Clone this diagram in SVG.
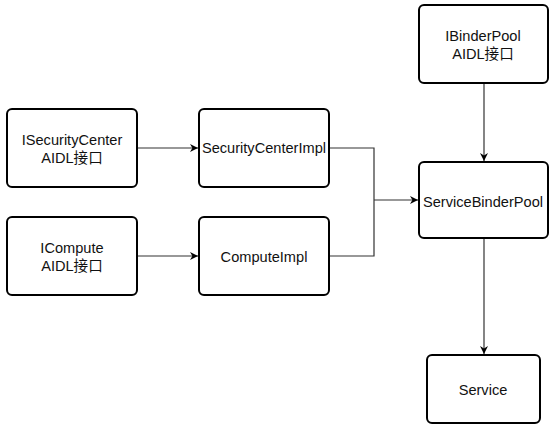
<svg xmlns="http://www.w3.org/2000/svg" width="554" height="429" viewBox="0 0 554 429">
<style>
.box{fill:#fff;stroke:#000;stroke-width:2}
.t{font-family:"Liberation Sans","Noto Sans CJK SC",sans-serif;font-size:14.6px;fill:#111;text-anchor:middle}
.c{fill:none;stroke:#333;stroke-width:1.2}
</style>
<defs>
<marker id="a" viewBox="0 0 10 10" refX="10" refY="5" markerWidth="8" markerHeight="8" markerUnits="userSpaceOnUse" orient="auto">
<path d="M0,0 L10,5 L0,10 L3,5 Z" fill="#000"/>
</marker>
</defs>
<rect width="554" height="429" fill="#fff"/>
<g id="connectors">
<path class="c" d="M137,148 H198" marker-end="url(#a)"/>
<path class="c" d="M137,256 H198" marker-end="url(#a)"/>
<path class="c" d="M329,148 H374 V256 H329"/>
<path class="c" d="M374,200 H418" marker-end="url(#a)"/>
<path class="c" d="M484,83 V161" marker-end="url(#a)"/>
<path class="c" d="M484,238 V354" marker-end="url(#a)"/>
</g>
<g id="isecuritycenter">
<rect class="box" x="7" y="109" width="130" height="78" rx="5"/>
<text class="t" x="72" y="145">ISecurityCenter</text>
<text class="t" x="72" y="163">AIDL接口</text>
</g>
<g id="icompute">
<rect class="box" x="7" y="217" width="130" height="78" rx="5"/>
<text class="t" x="72" y="253">ICompute</text>
<text class="t" x="72" y="271">AIDL接口</text>
</g>
<g id="securitycenterimpl">
<rect class="box" x="199" y="109" width="130" height="78" rx="5"/>
<text class="t" x="264" y="153">SecurityCenterImpl</text>
</g>
<g id="computeimpl">
<rect class="box" x="199" y="217" width="130" height="78" rx="5"/>
<text class="t" x="264" y="262">ComputeImpl</text>
</g>
<g id="ibinderpool">
<rect class="box" x="419" y="5" width="129" height="78" rx="5"/>
<text class="t" x="483" y="41">IBinderPool</text>
<text class="t" x="483" y="59">AIDL接口</text>
</g>
<g id="servicebinderpool">
<rect class="box" x="419" y="162" width="129" height="76" rx="5"/>
<text class="t" x="483" y="207">ServiceBinderPool</text>
</g>
<g id="service">
<rect class="box" x="427" y="355" width="113" height="68" rx="5"/>
<text class="t" x="483" y="395">Service</text>
</g>
</svg>
